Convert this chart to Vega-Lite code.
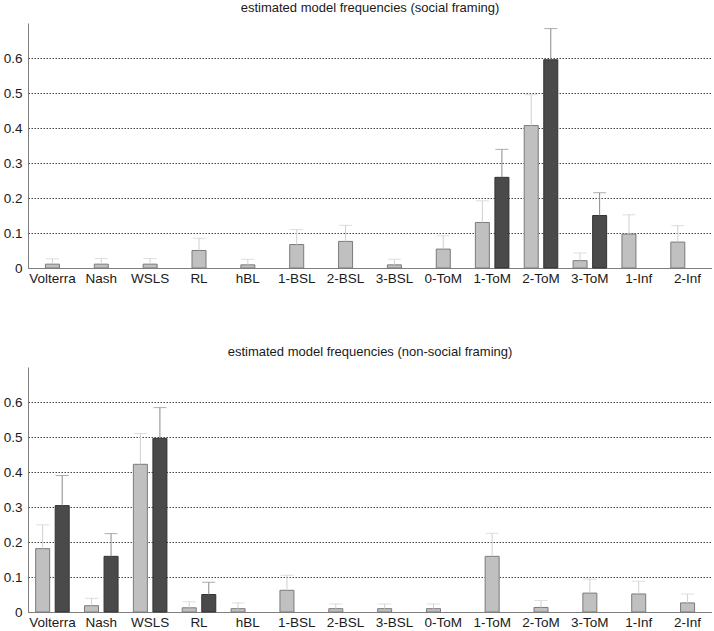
{
  "$schema": "https://vega.github.io/schema/vega-lite/v6.json",
  "background": "white",
  "padding": {"left": 3, "top": 2, "right": 0, "bottom": 0},
  "data": {"values": [
    {"framing": "social", "model": "Volterra", "series": "S", "value": 0.011, "upper": 0.026},
    {"framing": "social", "model": "Nash", "series": "S", "value": 0.011, "upper": 0.027},
    {"framing": "social", "model": "WSLS", "series": "S", "value": 0.011, "upper": 0.027},
    {"framing": "social", "model": "RL", "series": "S", "value": 0.05, "upper": 0.085},
    {"framing": "social", "model": "hBL", "series": "S", "value": 0.009, "upper": 0.025},
    {"framing": "social", "model": "1-BSL", "series": "S", "value": 0.067, "upper": 0.11},
    {"framing": "social", "model": "2-BSL", "series": "S", "value": 0.076, "upper": 0.122},
    {"framing": "social", "model": "3-BSL", "series": "S", "value": 0.009, "upper": 0.025},
    {"framing": "social", "model": "0-ToM", "series": "S", "value": 0.054, "upper": 0.092},
    {"framing": "social", "model": "1-ToM", "series": "L", "value": 0.13, "upper": 0.192},
    {"framing": "social", "model": "1-ToM", "series": "D", "value": 0.259, "upper": 0.339},
    {"framing": "social", "model": "2-ToM", "series": "L", "value": 0.407, "upper": 0.495},
    {"framing": "social", "model": "2-ToM", "series": "D", "value": 0.595, "upper": 0.684},
    {"framing": "social", "model": "3-ToM", "series": "L", "value": 0.021, "upper": 0.043},
    {"framing": "social", "model": "3-ToM", "series": "D", "value": 0.15, "upper": 0.215},
    {"framing": "social", "model": "1-Inf", "series": "L", "value": 0.097, "upper": 0.152},
    {"framing": "social", "model": "2-Inf", "series": "L", "value": 0.074, "upper": 0.121},
    {"framing": "non-social", "model": "Volterra", "series": "L", "value": 0.181, "upper": 0.249},
    {"framing": "non-social", "model": "Volterra", "series": "D", "value": 0.304, "upper": 0.39},
    {"framing": "non-social", "model": "Nash", "series": "L", "value": 0.018, "upper": 0.039},
    {"framing": "non-social", "model": "Nash", "series": "D", "value": 0.159, "upper": 0.224},
    {"framing": "non-social", "model": "WSLS", "series": "L", "value": 0.422, "upper": 0.51},
    {"framing": "non-social", "model": "WSLS", "series": "D", "value": 0.496, "upper": 0.584},
    {"framing": "non-social", "model": "RL", "series": "L", "value": 0.012, "upper": 0.029},
    {"framing": "non-social", "model": "RL", "series": "D", "value": 0.05, "upper": 0.085},
    {"framing": "non-social", "model": "hBL", "series": "L", "value": 0.0095, "upper": 0.026},
    {"framing": "non-social", "model": "1-BSL", "series": "L", "value": 0.062, "upper": 0.105},
    {"framing": "non-social", "model": "2-BSL", "series": "L", "value": 0.0095, "upper": 0.023},
    {"framing": "non-social", "model": "3-BSL", "series": "L", "value": 0.0095, "upper": 0.023},
    {"framing": "non-social", "model": "0-ToM", "series": "L", "value": 0.0095, "upper": 0.023},
    {"framing": "non-social", "model": "1-ToM", "series": "S", "value": 0.159, "upper": 0.225},
    {"framing": "non-social", "model": "2-ToM", "series": "S", "value": 0.013, "upper": 0.033},
    {"framing": "non-social", "model": "3-ToM", "series": "S", "value": 0.054, "upper": 0.094},
    {"framing": "non-social", "model": "1-Inf", "series": "S", "value": 0.0515, "upper": 0.088},
    {"framing": "non-social", "model": "2-Inf", "series": "S", "value": 0.026, "upper": 0.0515}
  ]},
  "spacing": 61,
  "vconcat": [
    {
      "title": "estimated model frequencies (social framing)",
      "width": 684,
      "height": 245,
      "transform": [{"filter": "datum.framing === 'social'"}],
      "encoding": {
        "x": {"field": "model", "type": "nominal", "title": null,
              "sort": ["Volterra","Nash","WSLS","RL","hBL","1-BSL","2-BSL","3-BSL","0-ToM","1-ToM","2-ToM","3-ToM","1-Inf","2-Inf"],
              "scale": {"paddingInner": 0, "paddingOuter": 0}},
        "xOffset": {"field": "series", "type": "nominal",
                    "scale": {"domain": ["L","S","D"], "paddingInner": 0, "paddingOuter": 1.554}}
      },
      "layer": [
        {
          "mark": {"type": "bar", "width": 14, "strokeWidth": 1},
          "encoding": {
            "y": {"field": "value", "type": "quantitative", "title": null,
                  "scale": {"domain": [0, 0.7], "nice": false},
                  "axis": {"values": [0, 0.1, 0.2, 0.3, 0.4, 0.5, 0.6], "format": ".1~f"}},
            "fill": {"field": "series", "type": "nominal", "legend": null,
                     "scale": {"domain": ["L","S","D"], "range": ["#c0c0c0","#c0c0c0","#4a4a4a"]}},
            "stroke": {"field": "series", "type": "nominal", "legend": null,
                       "scale": {"domain": ["L","S","D"], "range": ["#7a7a7a","#7a7a7a","#333333"]}}
          }
        },
        {
          "mark": {"type": "rule", "strokeWidth": 1},
          "encoding": {
            "y": {"field": "value", "type": "quantitative", "title": null},
            "y2": {"field": "upper"},
            "stroke": {"field": "series", "type": "nominal", "legend": null,
                       "scale": {"domain": ["L","S","D"], "range": ["#d0d0d0","#d0d0d0","#8a8a8a"]}}
          }
        },
        {
          "mark": {"type": "tick", "thickness": 1},
          "encoding": {
            "y": {"field": "upper", "type": "quantitative", "title": null},
            "color": {"field": "series", "type": "nominal", "legend": null,
                      "scale": {"domain": ["L","S","D"], "range": ["#d0d0d0","#d0d0d0","#8a8a8a"]}},
            "size": {"field": "series", "type": "ordinal", "legend": null,
                     "scale": {"domain": ["L","S","D"], "range": [13, 13, 5]}}
          }
        }
      ],
      "resolve": {"scale": {"stroke": "independent"}}
    },
    {
      "title": "estimated model frequencies (non-social framing)",
      "width": 684,
      "height": 245,
      "transform": [{"filter": "datum.framing === 'non-social'"}],
      "encoding": {
        "x": {"field": "model", "type": "nominal", "title": null,
              "sort": ["Volterra","Nash","WSLS","RL","hBL","1-BSL","2-BSL","3-BSL","0-ToM","1-ToM","2-ToM","3-ToM","1-Inf","2-Inf"],
              "scale": {"paddingInner": 0, "paddingOuter": 0}},
        "xOffset": {"field": "series", "type": "nominal",
                    "scale": {"domain": ["L","S","D"], "paddingInner": 0, "paddingOuter": 1.554}}
      },
      "layer": [
        {
          "mark": {"type": "bar", "width": 14, "strokeWidth": 1},
          "encoding": {
            "y": {"field": "value", "type": "quantitative", "title": null,
                  "scale": {"domain": [0, 0.7], "nice": false},
                  "axis": {"values": [0, 0.1, 0.2, 0.3, 0.4, 0.5, 0.6], "format": ".1~f"}},
            "fill": {"field": "series", "type": "nominal", "legend": null,
                     "scale": {"domain": ["L","S","D"], "range": ["#c0c0c0","#c0c0c0","#4a4a4a"]}},
            "stroke": {"field": "series", "type": "nominal", "legend": null,
                       "scale": {"domain": ["L","S","D"], "range": ["#7a7a7a","#7a7a7a","#333333"]}}
          }
        },
        {
          "mark": {"type": "rule", "strokeWidth": 1},
          "encoding": {
            "y": {"field": "value", "type": "quantitative", "title": null},
            "y2": {"field": "upper"},
            "stroke": {"field": "series", "type": "nominal", "legend": null,
                       "scale": {"domain": ["L","S","D"], "range": ["#d0d0d0","#d0d0d0","#8a8a8a"]}}
          }
        },
        {
          "mark": {"type": "tick", "thickness": 1},
          "encoding": {
            "y": {"field": "upper", "type": "quantitative", "title": null},
            "color": {"field": "series", "type": "nominal", "legend": null,
                      "scale": {"domain": ["L","S","D"], "range": ["#d0d0d0","#d0d0d0","#8a8a8a"]}},
            "size": {"field": "series", "type": "ordinal", "legend": null,
                     "scale": {"domain": ["L","S","D"], "range": [13, 13, 5]}}
          }
        }
      ],
      "resolve": {"scale": {"stroke": "independent"}}
    }
  ],
  "config": {
    "view": {"stroke": null},
    "font": "Liberation Sans",
    "title": {"font": "Liberation Sans", "fontSize": 13, "fontWeight": "normal", "color": "#1a1a1a", "offset": 8, "anchor": "middle"},
    "axis": {"labelFont": "Liberation Sans", "labelFontSize": 13.5, "labelColor": "#1a1a1a", "domainColor": "#7f7f7f", "ticks": false, "tickSize": 0},
    "axisX": {"labelAngle": 0, "labelPadding": 3, "grid": false},
    "axisY": {"grid": true, "gridDash": [1.5, 1.5], "gridColor": "#444444", "labelPadding": 6}
  }
}
